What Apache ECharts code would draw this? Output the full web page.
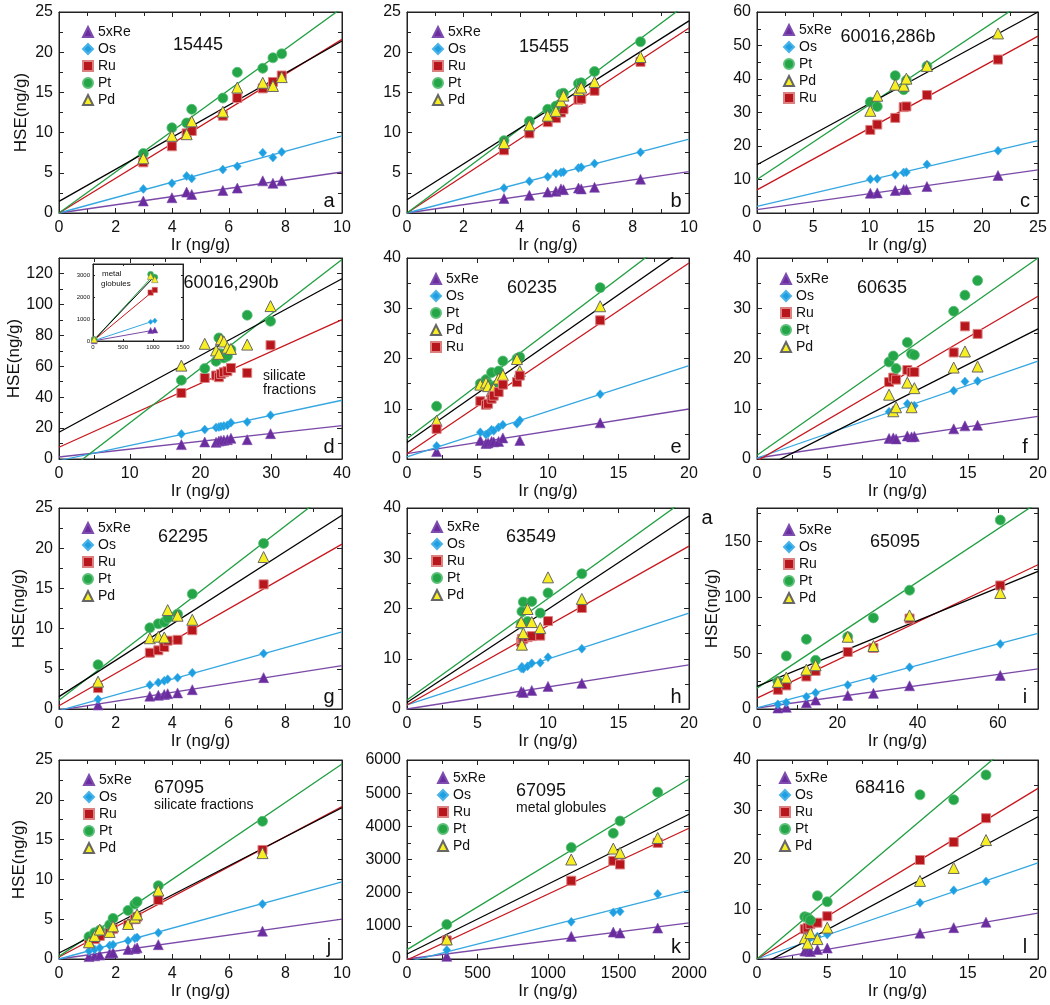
<!DOCTYPE html>
<html><head><meta charset="utf-8">
<script src="https://cdn.jsdelivr.net/npm/echarts/dist/echarts.min.js"></script>
<style>html,body{margin:0;padding:0;background:#fff}#c{width:1050px;height:1005px}</style>
</head><body><div id="c"></div>
<script>
// ---------- DATA ----------
// Each panel: Ir values, then 5xRe, Os, Ru, Pt, Pd; fit = [y at x=0, y at x=axis max] for Re, Os, Ru, Pt, Pd lines
// a: 15445
const irA = [2.98, 3.99, 4.51, 4.69, 5.79, 6.30, 7.20, 7.56, 7.87];
const reA = [1.5, 1.9, 2.6, 2.3, 2.8, 3.1, 4.0, 3.7, 4.0];
const osA = [3.0, 3.7, 4.6, 4.3, 5.4, 5.8, 7.5, 6.9, 7.6];
const ruA = [6.3, 8.3, 9.9, 10.2, 12.1, 14.3, 15.5, 16.3, 17.1];
const ptA = [7.4, 10.6, 11.2, 12.9, 14.3, 17.5, 18.0, 19.3, 19.8];
const pdA = [6.8, 9.6, 9.8, 11.4, 12.6, 15.6, 16.2, 15.8, 16.9];
const fitA = [[0, 5.1], [0, 9.6], [0, 21.6], [0, 25.5], [1.45, 21.4]];
// b: 15455
const irB = [3.44, 4.34, 4.99, 5.28, 5.46, 5.55, 6.08, 6.18, 6.65, 8.28];
const reB = [1.8, 2.2, 2.6, 2.7, 3.0, 2.9, 3.1, 3.0, 3.2, 4.2];
const osB = [3.1, 3.95, 4.5, 4.9, 5.05, 5.1, 5.6, 5.7, 6.15, 7.55];
const ruB = [7.8, 9.9, 11.3, 11.8, 12.5, 12.9, 14.1, 14.2, 15.2, 18.8];
const ptB = [9.0, 11.4, 12.9, 13.3, 14.8, 14.9, 16.1, 16.2, 17.6, 21.3];
const pdB = [8.7, 10.9, 12.1, 12.7, 13.9, 14.6, 15.3, 15.6, 16.3, 19.4];
const fitB = [[0, 5.15], [0, 9.2], [0, 23.0], [0, 26.2], [1.65, 23.9]];
// c: 60016,286b
const irC = [10.08, 10.7, 12.3, 13.05, 13.29, 15.12, 21.44];
const reC = [5.9, 6.0, 6.7, 7.0, 7.0, 7.9, 11.2];
const osC = [10.1, 10.2, 11.4, 12.1, 12.2, 14.5, 18.6];
const ruC = [24.8, 26.4, 28.4, 31.6, 31.8, 35.2, 45.8];
const ptC = [33.1, 31.8, 41.0, 36.8, 39.6, 43.8, null];
const pdC = [30.5, 35.0, 38.3, 38.0, 40.1, 43.9, 53.6];
const fitC = [[1.0, 12.9], [2.0, 21.6], [6.9, 52.8], [10.0, 65.8], [14.4, 60.0]];
// d: 60016,290b (silicate fractions)
const irD = [17.3, 20.6, 22.2, 22.6, 22.9, 23.3, 23.8, 24.3, 26.6, 29.9];
const reD = [9.3, 11.0, 10.8, 11.6, 11.9, 12.2, 12.5, 13.4, 12.5, 16.4];
const osD = [16.2, 19.0, 20.3, 20.7, 21.0, 21.3, 21.8, 23.5, 24.0, 28.3];
const ruD = [42.7, 52.4, 54.0, 52.9, 55.0, 56.1, 56.8, 58.9, 55.7, 73.6];
const ptD = [50.9, 58.5, 63.2, 78.3, 68.0, 65.4, 66.5, 70.8, 93.0, 89.1];
const pdD = [60.4, 74.5, 70.2, 68.0, 77.5, 76.0, 72.0, 71.2, 74.0, 98.9];
const fitD = [[1.3, 21.6], [-1.0, 38.0], [7.6, 90.2], [-11.9, 129], [17.3, 116.6]];
// d inset: metal globules; fit = [y at 0, y at fitEnd]
const irDm = [20, 960, 1030];
const reDm = [12, 480, 500];
const osDm = [20, 870, 920];
const ruDm = [55, 2200, 2320];
const ptDm = [65, 3030, 2900];
const pdDm = [70, 2950, 2800];
const fitDm = [[0, 500], [0, 930], [0, 2330], [0, 3050], [0, 2950]];
const fitDmEnd = 1030;
// e: 60235
const irE = [2.1, 5.2, 5.6, 5.75, 6.0, 6.15, 6.5, 6.8, 7.8, 8.0, 13.7];
const reE = [1.5, 3.7, 3.1, 3.2, 3.5, 3.4, 3.5, 4.2, null, 3.7, 7.2];
const osE = [2.6, 5.3, 4.9, 5.1, 5.8, 5.6, 6.3, 6.8, 7.0, 7.7, 12.9];
const ruE = [6.0, 11.5, 10.8, 11.0, 12.0, 12.6, 13.3, 14.8, 15.3, 16.6, 27.6];
const ptE = [10.5, 15.0, 15.8, 15.0, 17.2, 14.5, 17.5, 19.5, 20.0, 20.3, 34.1];
const pdE = [7.6, 14.8, 15.2, 14.5, 13.5, 14.0, 16.0, 16.7, 19.9, 17.5, 30.4];
const fitE = [[1.06, 9.95], [0.4, 18.6], [1.06, 39.0], [4.05, 46.6], [3.3, 42.5]];
// f: 60635
const irF = [9.4, 9.7, 9.9, 10.7, 11.0, 11.2, 14.0, 14.8, 15.7];
const reF = [4.1, 4.2, 4.0, 4.6, 4.4, 4.5, 6.0, 6.6, 6.7];
const osF = [9.4, 9.6, 9.8, 11.0, 10.4, 10.6, 13.6, 15.4, 15.5];
const ruF = [15.3, 16.2, 15.8, 17.7, 17.3, 17.3, 21.2, 26.4, 24.9];
const ptF = [19.3, 20.5, 18.0, 23.2, 20.9, 20.7, 29.4, 32.6, 35.5];
const pdF = [12.8, 9.5, 10.3, 15.2, 10.3, 14.1, 18.2, 21.4, 18.4];
const fitF = [[0.2, 8.5], [0.2, 19.5], [-0.4, 32.4], [0.73, 40.0], [-2.4, 25.9]];
// g: 62295
const irG = [1.38, 3.21, 3.51, 3.72, 3.84, 4.19, 4.71, 7.23];
const reG = [0.5, 1.6, 1.7, 1.8, 1.9, 2.0, 2.4, 3.9];
const osG = [1.2, 3.0, 3.3, 3.5, 3.7, 3.9, 4.5, 6.9];
const ruG = [2.6, 7.0, 7.3, 7.7, 8.5, 8.6, 9.8, 15.5];
const ptG = [5.5, 10.1, 10.6, 10.8, 11.3, 11.8, 14.3, 20.6];
const pdG = [3.4, 8.8, 9.0, 8.9, 12.3, 11.6, 11.1, 18.9];
const fitG = [[-0.15, 5.4], [-0.2, 9.6], [0.4, 20.5], [1.08, 28.2], [1.54, 24.1]];
// h: 63549
const irH = [8.1, 8.15, 8.25, 8.55, 8.85, 9.45, 10.0, 12.4];
const reH = [3.5, null, 3.3, null, 3.7, null, 4.5, 5.1];
const osH = [8.1, 8.4, 8.0, 8.5, 9.1, 9.2, 10.3, 12.0];
const ruH = [13.3, 13.9, 14.0, 14.3, 14.5, 14.6, 17.5, 20.1];
const ptH = [16.9, 19.4, 21.3, 17.4, 21.4, 19.1, 23.1, 26.9];
const pdH = [17.3, 12.8, 15.1, 19.9, 17.3, 16.1, 26.2, 21.9];
const fitH = [[0, 8.8], [0.8, 19.1], [0.8, 32.4], [1.8, 42.2], [1.3, 38.4]];
// i: 65095
const irI = [5.2, 7.3, 12.3, 14.6, 22.6, 29.0, 38.0, 60.6];
const reI = [0.9, 1.5, 5.6, 8.0, 12.2, 14.0, 20.8, 30.1];
const osI = [4.2, 5.9, 11.0, 14.5, 21.4, 27.3, 37.4, 58.2];
const ruI = [17.2, 21.1, 29.1, 34.1, 51.1, 54.6, 81.0, 110.6];
const ptI = [24.7, 47.5, 62.4, 43.6, 64.7, 81.6, 106.4, 169.2];
const pdI = [24.3, 28.2, 35.3, 39.2, 64.7, 56.4, 83.8, 103.9];
const fitI = [[0.9, 35.9], [0.9, 67.7], [9.8, 129.2], [18.7, 185], [20.2, 123.3]];
// j: 67095 silicate fractions
const irJ = [1.06, 1.26, 1.44, 1.79, 1.91, 2.44, 2.68, 2.76, 3.51, 7.19];
const reJ = [0.3, 0.4, 0.5, 0.7, 0.8, 1.2, 1.3, 1.4, 1.8, 3.5];
const osJ = [1.0, 1.2, 1.4, 1.7, 1.8, 2.3, 2.6, 2.7, 3.3, 6.9];
const ruJ = [2.0, 2.5, 2.9, 3.5, 3.8, 4.3, 5.0, 5.3, 7.4, 13.7];
const ptJ = [2.8, 3.3, 3.6, 4.3, 5.1, 6.1, 6.9, 7.2, 9.2, 17.3];
const pdJ = [2.1, 2.9, 3.7, 3.4, 4.1, 4.4, 5.2, 5.6, 8.6, 13.3];
const fitJ = [[0, 5.0], [0, 9.7], [0.25, 19.15], [0.33, 24.5], [0.75, 19.0]];
// k: 67095 metal globules
const irK = [282, 1165, 1463, 1511, 1778];
const reK = [80, 682, 813, 783, 933];
const osK = [270, 1120, 1405, 1435, 1960];
const ruK = [560, 2360, 2960, 2850, 3500];
const ptK = [1040, 3360, 3790, 4160, 5030];
const pdK = [590, 3000, 3330, 3200, 3650];
const fitK = [[0, 1090], [-90, 2067], [-30, 3943], [281, 5428], [150, 4364]];
// l: 68416
const irL = [3.4, 3.6, 3.8, 4.3, 5.0, 11.6, 14.0, 16.3];
const reL = [1.6, 1.6, 1.5, 1.9, 2.2, 5.2, 6.3, 7.4];
const osL = [3.5, 4.0, 4.3, 4.5, 4.9, 11.3, 13.8, 15.6];
const ruL = [6.0, 6.3, 7.0, 7.3, 8.6, 19.9, 23.5, 28.3];
const ptL = [8.5, 8.3, 7.8, 12.7, 11.5, 33.0, 32.0, 37.0];
const pdL = [4.2, 3.1, 5.2, 4.0, 6.3, 15.7, 18.3, 23.9];
const fitL = [[-0.48, 9.2], [0, 19.3], [0, 34.3], [0, 47.8], [-1.66, 28.6]];

// ---------- STYLE / LAYOUT ----------
const FONT = '"Liberation Sans", Arial, Helvetica, sans-serif';
const NAMES = ['5xRe', 'Os', 'Ru', 'Pt', 'Pd'];
const STD = ['5xRe', 'Os', 'Ru', 'Pt', 'Pd'];
const ALT = ['5xRe', 'Os', 'Pt', 'Pd', 'Ru'];
const STYLE = {
  '5xRe': {symbol: 'triangle', size: 10, color: '#6a2c9e', border: '#7d4cae', bw: 0.6, line: '#7b4aa8'},
  'Os':   {symbol: 'diamond', size: [8, 9], color: '#1e9fe2', border: '#4bb3e8', bw: 0.6, line: '#35a7e0'},
  'Ru':   {symbol: 'rect', size: 9, color: '#b7161c', border: '#dd8080', bw: 1, line: '#c8161d'},
  'Pt':   {symbol: 'circle', size: 10, color: '#24a548', border: '#5cbf77', bw: 0.8, line: '#1f9e40'},
  'Pd':   {symbol: 'triangle', size: 11, color: '#f7ef22', border: '#666666', bw: 1, line: '#000000'}
};
const colL = [59, 407, 757], colW = [283, 282, 281];
const rowT = [12, 258, 508, 760], rowH = [201, 201, 201, 199];

const panels = [
  {id: 'a', title: '15445', c: 0, r: 0, x: [10, 2], y: [25, 5], ir: irA, v: [reA, osA, ruA, ptA, pdA], fit: fitA, order: STD, yGap: 29, t: [139, 33], lg: [23, 13]},
  {id: 'b', title: '15455', c: 1, r: 0, x: [10, 2], y: [25, 5], ir: irB, v: [reB, osB, ruB, ptB, pdB], fit: fitB, order: STD, t: [137, 35], lg: [25, 13]},
  {id: 'c', title: '60016,286b', c: 2, r: 0, x: [25, 5], y: [60, 10], ir: irC, v: [reC, osC, ruC, ptC, pdC], fit: fitC, order: ALT, t: [131, 25], lg: [26, 11]},
  {id: 'd', title: '60016,290b', c: 0, r: 1, x: [40, 10], y: [130, 20, true], ir: irD, v: [reD, osD, ruD, ptD, pdD], fit: fitD, order: STD, yGap: 33, t: [172, 25], lg: null},
  {id: 'e', title: '60235', c: 1, r: 1, x: [20, 5], y: [40, 10], ir: irE, v: [reE, osE, ruE, ptE, pdE], fit: fitE, order: ALT, t: [125, 30], lg: [23, 14]},
  {id: 'f', title: '60635', c: 2, r: 1, x: [20, 5], y: [40, 10], ir: irF, v: [reF, osF, ruF, ptF, pdF], fit: fitF, order: STD, t: [125, 30], lg: [23, 14]},
  {id: 'g', title: '62295', c: 0, r: 2, x: [10, 2], y: [25, 5], ir: irG, v: [reG, osG, ruG, ptG, pdG], fit: fitG, order: STD, yGap: 31, t: [124, 29], lg: [23, 13]},
  {id: 'h', title: '63549', c: 1, r: 2, x: [20, 5], y: [40, 10], ir: irH, v: [reH, osH, ruH, ptH, pdH], fit: fitH, order: STD, t: [124, 29], lg: [24, 12]},
  {id: 'i', title: '65095', c: 2, r: 2, x: [70, 20, true], y: [180, 50, true], ir: irI, v: [reI, osI, ruI, ptI, pdI], fit: fitI, order: STD, yGap: 34, t: [138, 34], lg: [26, 15]},
  {id: 'j', title: '67095', sub: 'silicate fractions', c: 0, r: 3, x: [10, 2], y: [25, 5], ir: irJ, v: [reJ, osJ, ruJ, ptJ, pdJ], fit: fitJ, order: STD, yGap: 31, t: [95, 28], lg: [24, 13]},
  {id: 'k', title: '67095', sub: 'metal globules', c: 1, r: 3, x: [2000, 500], y: [6000, 1000], ir: irK, v: [reK, osK, ruK, ptK, pdK], fit: fitK, order: STD, t: [109, 31], lg: [30, 11]},
  {id: 'l', title: '68416', c: 2, r: 3, x: [20, 5], y: [40, 10], ir: irL, v: [reL, osL, ruL, ptL, pdL], fit: fitL, order: STD, t: [123, 28], lg: [22, 11]}
];

// ---------- BUILD ----------
const grid = [], xAxis = [], yAxis = [], series = [], legend = [], graphic = [];

function axisCfg(dim, gi, spec, primary, opts) {
  opts = opts || {};
  const max = spec[0], interval = spec[1], hideMax = !!spec[2];
  const a = {
    type: 'value', gridIndex: gi, min: 0, max: max, interval: interval,
    position: dim === 'x' ? (primary ? 'bottom' : 'top') : (primary ? 'left' : 'right'),
    axisLine: {show: true, onZero: false, lineStyle: {color: '#222', width: 1}},
    axisTick: {show: true, inside: true, length: opts.tick || 5, lineStyle: {color: '#222', width: 1}},
    minorTick: {show: opts.minor !== false, splitNumber: 2, length: opts.minorLen || 4, lineStyle: {color: '#222', width: 1}},
    splitLine: {show: false}, minorSplitLine: {show: false},
    axisLabel: {show: primary, fontSize: opts.fs || 16, fontFamily: FONT, color: '#111',
      margin: opts.margin || (dim === 'x' ? 7 : 6), showMaxLabel: !hideMax, showMinLabel: true,
      formatter: v => String(v)},
    silent: true
  };
  if (primary && opts.name) {
    a.name = opts.name; a.nameLocation = 'middle'; a.nameGap = opts.gap;
    a.nameTextStyle = {fontSize: 17, fontFamily: FONT, color: '#111'};
  }
  return a;
}

function addSeries(xi, yi, ir, vals, fit, order, xEnd, small) {
  NAMES.forEach((n, k) => {
    series.push({
      type: 'line', xAxisIndex: xi, yAxisIndex: yi, silent: true, clip: true,
      showSymbol: false, symbol: 'none', z: 2, animation: false,
      lineStyle: {color: STYLE[n].line, width: small ? 1 : 1.3},
      data: [[0, fit[k][0]], [xEnd, fit[k][1]]]
    });
  });
  order.forEach(n => {
    const k = NAMES.indexOf(n), s = STYLE[n];
    const data = ir.map((x, i) => vals[k][i] == null ? null : [x, vals[k][i]]).filter(Boolean);
    let size = s.size;
    if (small) size = Array.isArray(size) ? size.map(v => v * 0.6) : size * 0.6;
    series.push({
      type: 'scatter', name: n, xAxisIndex: xi, yAxisIndex: yi, z: 3, silent: true,
      symbol: s.symbol, symbolSize: size,
      itemStyle: {color: s.color, borderColor: s.border, borderWidth: small ? 0.5 : s.bw, opacity: 1},
      data: data
    });
  });
}

function txt(text, x, y, fs, align) {
  graphic.push({type: 'text', x: x, y: y, z: 50, silent: true,
    style: {text: text, fill: '#111', font: fs + 'px ' + FONT,
      textAlign: align || 'center', textVerticalAlign: 'middle', align: align || 'center', verticalAlign: 'middle'}});
}

panels.forEach(p => {
  const L = colL[p.c], T = rowT[p.r], W = colW[p.c], H = rowH[p.r];
  const gi = grid.length;
  grid.push({left: L, top: T, width: W, height: H, show: true, borderColor: '#222', borderWidth: 1, backgroundColor: '#fff'});
  const xi = xAxis.length, yi = yAxis.length;
  xAxis.push(axisCfg('x', gi, p.x, true, {name: 'Ir (ng/g)', gap: 23}));
  xAxis.push(axisCfg('x', gi, p.x, false));
  yAxis.push(axisCfg('y', gi, p.y, true, p.yGap ? {name: 'HSE(ng/g)', gap: p.yGap} : {}));
  yAxis.push(axisCfg('y', gi, p.y, false));
  addSeries(xi, yi, p.ir, p.v, p.fit, p.order, p.x[0], false);
  if (p.lg) {
    legend.push({data: p.order, orient: 'vertical', left: L + p.lg[0], top: T + p.lg[1], padding: 0,
      itemWidth: 10, itemHeight: 10, itemGap: 3, selectedMode: false,
      textStyle: {fontSize: 14, fontFamily: FONT, color: '#111', lineHeight: 14}});
  }
  if (p.sub) {
    txt(p.title, L + p.t[0], T + p.t[1], 18, 'left');
    txt(p.sub, L + p.t[0], T + p.t[1] + 17, 14, 'left');
  } else {
    txt(p.title, L + p.t[0], T + p.t[1], 18, 'center');
  }
  txt(p.id, L + W - 13, T + H - 12, 20, 'center');

  if (p.id === 'd') {
    const gi2 = grid.length;
    grid.push({left: 93, top: 264, width: 90, height: 77, show: true, borderColor: '#333', borderWidth: 1, backgroundColor: '#fff', z: 5});
    const xi2 = xAxis.length, yi2 = yAxis.length;
    const io = {fs: 6, margin: 3, tick: 2, minorLen: 2, minor: false};
    xAxis.push(Object.assign(axisCfg('x', gi2, [1500, 500], true, io), {z: 6}));
    xAxis.push(Object.assign(axisCfg('x', gi2, [1500, 500], false, io), {z: 6}));
    yAxis.push(Object.assign(axisCfg('y', gi2, [3500, 1000, true], true, io), {z: 6}));
    yAxis.push(Object.assign(axisCfg('y', gi2, [3500, 1000, true], false, io), {z: 6}));
    const sStart = series.length;
    addSeries(xi2, yi2, irDm, [reDm, osDm, ruDm, ptDm, pdDm], fitDm, STD, fitDmEnd, true);
    for (let s = sStart; s < series.length; s++) { series[s].z = series[s].type === 'line' ? 6 : 7; }
    txt('metal', 102, 274, 8, 'left');
    txt('globules', 101, 284, 8, 'left');
    txt('silicate', 263, 376, 14, 'left');
    txt('fractions', 263, 390, 14, 'left');
  }
});
txt('a', 707, 518, 20, 'center');

const chart = echarts.init(document.getElementById('c'), null, {renderer: 'canvas'});
chart.setOption({animation: false, backgroundColor: '#fff', grid, xAxis, yAxis, series, legend, graphic});
</script></body></html>
